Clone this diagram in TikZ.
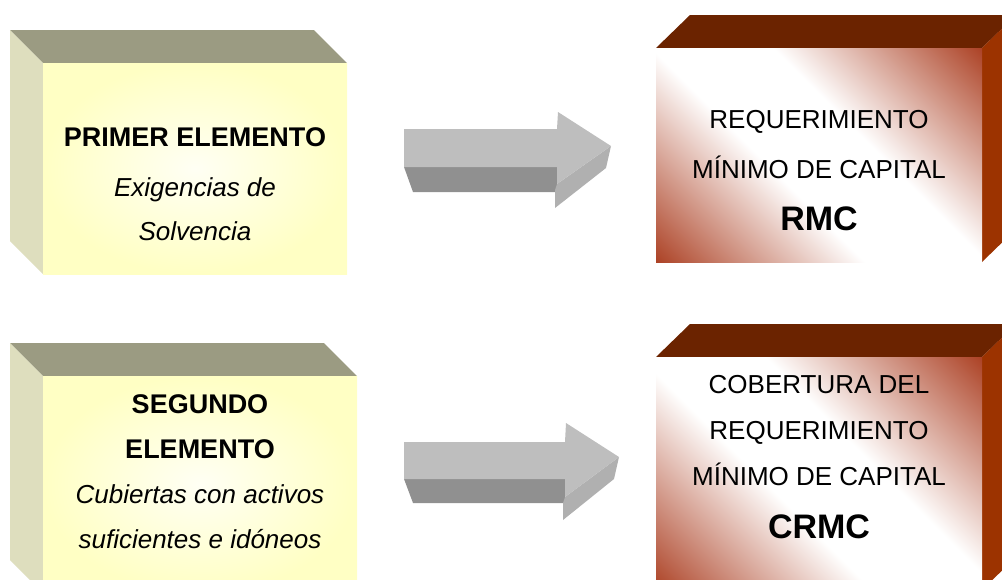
\documentclass[tikz,border=0pt]{standalone}
\usepackage{fontspec}
\setmainfont{Liberation Sans}
\definecolor{ytop}{HTML}{9B9B82}
\definecolor{yside}{HTML}{DEDEBE}
\definecolor{yfront}{HTML}{FFFFC4}
\definecolor{ycenter}{HTML}{FFFFF4}
\definecolor{rtop}{HTML}{6B2300}
\definecolor{rside}{HTML}{9C3300}
\definecolor{rmcred}{HTML}{A8381A}
\definecolor{alight}{HTML}{BEBEBE}
\definecolor{adark}{HTML}{909090}
\definecolor{ahead}{HTML}{B0B0B0}
\pgfdeclareverticalshading{redband}{100bp}{color(0bp)=(rmcred); color(13bp)=(rmcred); color(42bp)=(white); color(58bp)=(white); color(87bp)=(rmcred); color(100bp)=(rmcred)}
\tikzset{
  txt/.style={anchor=base, inner sep=0pt, font=\fontsize{26}{30}\selectfont},
  txtb/.style={txt, font=\fontsize{27}{30}\selectfont\bfseries},
  txti/.style={txt, font=\fontsize{26}{30}\selectfont\itshape},
  txtbig/.style={txt, font=\fontsize{34}{36}\selectfont\bfseries},
}
\begin{document}
\begin{tikzpicture}[x=1pt,y=-1pt]
\useasboundingbox (0,0) rectangle (1002,579);
\clip (0,0) rectangle (1002,579);
% ---- box A (top-left)
\fill[ytop] (10,30) -- (314,30) -- (347,63) -- (43,63) -- cycle;
\fill[yside] (10,30) -- (43,63) -- (43,274) -- (10,241) -- cycle;
\shade[inner color=ycenter, outer color=yfront] (43,63) rectangle (347,274);
% ---- box B (bottom-left)
\fill[ytop] (10,343) -- (324,343) -- (357,376) -- (43,376) -- cycle;
\fill[yside] (10,343) -- (43,376) -- (43,593) -- (10,560) -- cycle;
\shade[inner color=ycenter, outer color=yfront] (43,376) rectangle (357,593);
% ---- box C (top-right)
\fill[rtop] (656,48) -- (982,48) -- (1016,15) -- (690,15) -- cycle;
\fill[rside] (982,48) -- (1016,15) -- (1016,229) -- (982,262) -- cycle;
\shade[shading=redband, shading angle=-45] (656,48) rectangle (982,262);
% ---- box D (bottom-right)
\fill[rtop] (656,357) -- (982,357) -- (1016,324) -- (690,324) -- cycle;
\fill[rside] (982,357) -- (1016,324) -- (1016,557) -- (982,590) -- cycle;
\shade[shading=redband, shading angle=-45] (656,357) rectangle (982,590);
% ---- arrow 1
\fill[adark] (404,167) -- (557,167) -- (557,192) -- (413,192) -- cycle;
\fill[ahead] (611,146) -- (606,168) -- (555,208) -- (555,190) -- (557,184) -- cycle;
\fill[alight] (404,129) -- (557,129) -- (558,112) -- (611,146) -- (557,184) -- (557,167) -- (404,167) -- cycle;
% ---- arrow 2
\fill[adark] (404,479) -- (565,479) -- (565,503) -- (413,503) -- cycle;
\fill[ahead] (619,457) -- (614,479) -- (563,520) -- (563,503) -- (565,497) -- cycle;
\fill[alight] (404,442) -- (565,442) -- (566,423) -- (619,457) -- (565,497) -- (565,479) -- (404,479) -- cycle;
% ---- texts
\node[txtb] (a1) at (195,146) {PRIMER ELEMENTO};
\node[txti] (a2) at (195,196) {Exigencias de};
\node[txti] (a3) at (195,240) {Solvencia};
\node[txtb] (b1) at (200,413) {SEGUNDO};
\node[txtb] (b2) at (200,458) {ELEMENTO};
\node[txti] (b3) at (200,503) {Cubiertas con activos};
\node[txti] (b4) at (200,548) {suficientes e idóneos};
\node[txt] (c1) at (819,128) {REQUERIMIENTO};
\node[txt] (c2) at (819,178) {MÍNIMO DE CAPITAL};
\node[txtbig] (c3) at (819,230) {RMC};
\node[txt] (d1) at (819,393) {COBERTURA DEL};
\node[txt] (d2) at (819,439) {REQUERIMIENTO};
\node[txt] (d3) at (819,485) {MÍNIMO DE CAPITAL};
\node[txtbig] (d4) at (819,538) {CRMC};
\end{tikzpicture}
\end{document}
